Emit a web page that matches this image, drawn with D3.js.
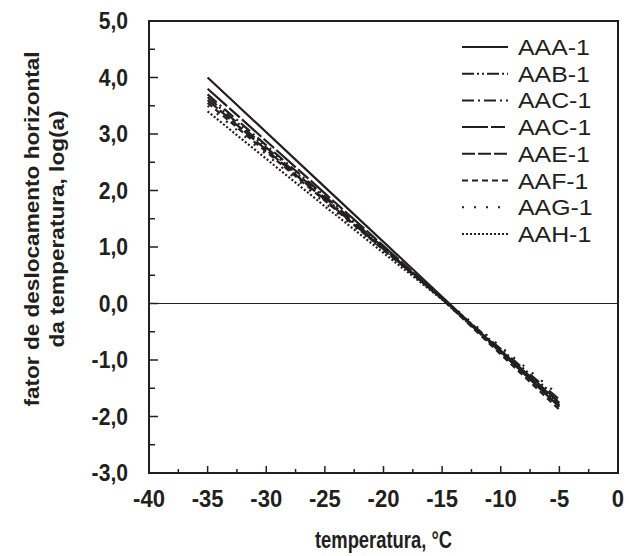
<!DOCTYPE html>
<html>
<head>
<meta charset="utf-8">
<script src="https://cdn.jsdelivr.net/npm/d3@7"></script>
<style>
body { margin: 0; background: #fff; }
text { font-family: "Liberation Sans", Arial, sans-serif; fill: #231f20; }
</style>
</head>
<body>
<script>
var temps = [-35, -25, -15, -5];

// shift factor log(a) for each mixture
var names = ["AAA-1", "AAB-1", "AAC-1", "AAC-1", "AAE-1", "AAF-1", "AAG-1", "AAH-1"];
var aaa1 = [4.00, 2.06, 0.12, -1.83];
var aab1 = [3.65, 1.87, 0.09, -1.70];
var aac1 = [3.70, 1.90, 0.08, -1.80];
var aac1b = [3.80, 1.95, 0.09, -1.76];
var aae1 = [3.60, 1.84, 0.08, -1.75];
var aaf1 = [3.55, 1.82, 0.08, -1.88];
var aag1 = [3.50, 1.78, 0.10, -1.63];
var aah1 = [3.40, 1.72, 0.07, -1.80];
var series = [aaa1, aab1, aac1, aac1b, aae1, aaf1, aag1, aah1];
var dashes = ["", "12,3,2,3,2,3", "12,4,2,4", "26,3,14,3", "13,3", "6,4", "2,10", "2,2"];

var xTicks = [-40, -35, -30, -25, -20, -15, -10, -5, 0];
var yTicks = [-3, -2, -1, 0, 1, 2, 3, 4, 5];

var W = 629, H = 556;
var pL = 149, pR = 618, pT = 21, pB = 473;
var ink = "#231f20";

var svg = d3.select("body").append("svg").attr("width", W).attr("height", H);

var x = d3.scaleLinear().domain([-40, 0]).range([pL, pR]);
var y = d3.scaleLinear().domain([-3, 5]).range([pB, pT]);

// stretched text helper (the source picture is not uniformly scaled)
function label(g, tx, ty, str, size, sx, anchor, bold) {
    return g.append("text")
        .attr("transform", "translate(" + tx + "," + ty + ") scale(" + sx + ",1)")
        .attr("text-anchor", anchor)
        .attr("font-weight", bold ? "bold" : "normal")
        .attr("font-size", size)
        .text(str);
}

// zero line
svg.append("line").attr("x1", pL).attr("x2", pR).attr("y1", y(0)).attr("y2", y(0))
    .attr("stroke", ink).attr("stroke-width", 1.2);

// data lines
var line = d3.line().x(function (d) { return x(d[0]); }).y(function (d) { return y(d[1]); });
series.forEach(function (s, i) {
    svg.append("path")
        .datum(temps.map(function (t, j) { return [t, s[j]]; }))
        .attr("d", line)
        .attr("fill", "none")
        .attr("stroke", ink)
        .attr("stroke-width", 2.2)
        .attr("stroke-dasharray", dashes[i] || null);
});

// ticks, pointing inward
var yMinor = d3.range(-2.5, 5, 1);
svg.selectAll(".ymin").data(yMinor).enter().append("line")
    .attr("x1", pL).attr("x2", pL + 6).attr("y1", y).attr("y2", y)
    .attr("stroke", ink).attr("stroke-width", 1.5);
svg.selectAll(".ymaj").data(yTicks.slice(1, -1)).enter().append("line")
    .attr("x1", pL).attr("x2", pL + 9).attr("y1", y).attr("y2", y)
    .attr("stroke", ink).attr("stroke-width", 1.5);
var xMinor = d3.range(-37.5, 0, 5);
svg.selectAll(".xmin").data(xMinor).enter().append("line")
    .attr("y1", pB).attr("y2", pB - 4).attr("x1", x).attr("x2", x)
    .attr("stroke", ink).attr("stroke-width", 1.5);
svg.selectAll(".xmaj").data(xTicks.slice(1, -1)).enter().append("line")
    .attr("y1", pB).attr("y2", pB - 7).attr("x1", x).attr("x2", x)
    .attr("stroke", ink).attr("stroke-width", 1.5);

// frame
svg.append("rect").attr("x", pL).attr("y", pT).attr("width", pR - pL).attr("height", pB - pT)
    .attr("fill", "none").attr("stroke", ink).attr("stroke-width", 2);

// tick labels
var fmt = function (v) { return d3.format(".1f")(v).replace(".", ",").replace("−", "-"); };
yTicks.forEach(function (d) {
    label(svg, 128, y(d) + 8, fmt(d), 24, 0.88, "end", true);
});
xTicks.forEach(function (d) {
    label(svg, x(d), 507, String(d).replace("−", "-"), 24, 0.92, "middle", true);
});

// axis titles
label(svg, x(-20), 548, "temperatura, °C", 23, 0.8, "middle", true);
var yt = svg.append("g").attr("transform", "translate(39,229) rotate(-90)");
label(yt, 0, 0, "fator de deslocamento horizontal", 20, 1.13, "middle", true);
label(yt, 0, 25, "da temperatura, log(a)", 20, 1.13, "middle", true);

// legend
var leg = svg.append("g");
names.forEach(function (n, i) {
    var ly = 47 + i * 26.7;
    leg.append("line").attr("x1", 462).attr("x2", 508).attr("y1", ly).attr("y2", ly)
        .attr("stroke", ink).attr("stroke-width", 2).attr("stroke-dasharray", dashes[i] || null);
    label(leg, 518, ly + 8, n, 22, 1.13, "start", false);
});
</script>
</body>
</html>
